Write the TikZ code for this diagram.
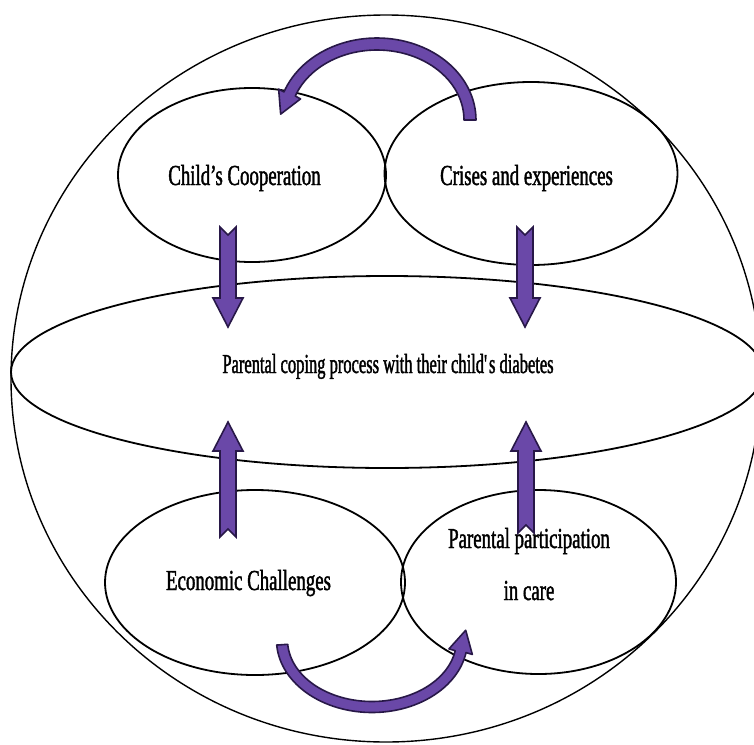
\documentclass[tikz,border=0pt]{standalone}
\usepackage{fontspec}
\usetikzlibrary{shapes.geometric}
\newfontfamily\bigtxt[FakeStretch=0.6,FakeBold=1.4]{Liberation Serif}
\newfontfamily\smtxt[FakeStretch=0.65,FakeBold=1.4]{Liberation Serif}
\definecolor{arrfill}{RGB}{106,72,168}
\definecolor{arrline}{RGB}{40,24,72}
\newcommand{\bendarrow}[9]{%
  \pgfmathsetmacro\baS{ifthenelse(#6>#5,1,-1)}%
  \pgfmathsetmacro\baTX{\baS*(-(#3)*sin(#6))}%
  \pgfmathsetmacro\baTY{\baS*((#4)*cos(#6))}%
  \pgfmathsetmacro\baTL{sqrt(\baTX*\baTX+\baTY*\baTY)}%
  \pgfmathsetmacro\baUX{\baTX/\baTL}%
  \pgfmathsetmacro\baUY{\baTY/\baTL}%
  \pgfmathsetmacro\baNX{(#4)*cos(#6)}%
  \pgfmathsetmacro\baNY{(#3)*sin(#6)}%
  \pgfmathsetmacro\baNL{sqrt(\baNX*\baNX+\baNY*\baNY)}%
  \pgfmathsetmacro\baNX{\baNX/\baNL}%
  \pgfmathsetmacro\baNY{\baNY/\baNL}%
  \pgfmathsetmacro\baBX{#1+(#3)*cos(#6)}%
  \pgfmathsetmacro\baBY{#2+(#4)*sin(#6)}%
  \filldraw[bendarr] plot[domain=#5:#6,samples=60] ({#1+(#3+#7)*cos(\x)},{#2+(#4+#7)*sin(\x)})
    -- ({\baBX+#8*\baNX},{\baBY+#8*\baNY})
    -- ({\baBX+#9*\baUX},{\baBY+#9*\baUY})
    -- ({\baBX-#8*\baNX},{\baBY-#8*\baNY})
    -- plot[domain=#6:#5,samples=60] ({#1+(#3-#7)*cos(\x)},{#2+(#4-#7)*sin(\x)})
    -- cycle;
}
\newcommand{\blockarrow}[3]{%
  \pgfmathsetmacro\bkD{ifthenelse(#3>#2,1,-1)}%
  \filldraw[blockarr] (#1-8,#2) -- (#1,{#2+8*\bkD}) -- (#1+8,#2) -- (#1+8,{#3-29*\bkD})
    -- (#1+15,{#3-29*\bkD}) -- (#1,#3) -- (#1-15,{#3-29*\bkD}) -- (#1-8,{#3-29*\bkD}) -- cycle;
}
\begin{document}
\begin{tikzpicture}[x=1pt,y=-1pt,
  oval/.style={draw=black,ellipse,line width=1.8pt,inner sep=0pt,outer sep=0pt},
  smlbl/.style={font=\smtxt\fontsize{29pt}{32pt}\selectfont,inner sep=0pt,anchor=base},
  biglbl/.style={font=\bigtxt\fontsize{27.5pt}{30pt}\selectfont,inner sep=0pt,anchor=base},
  bendarr/.style={fill=arrfill,draw=arrline,line width=1.6pt,line join=round},
  blockarr/.style={fill=arrfill,draw=arrline,line width=1.6pt,line join=miter}]
\useasboundingbox (0,0) rectangle (754,744);
\fill[white] (0,0) rectangle (754,744);
\node[oval,line width=1.4pt,minimum width=750pt,minimum height=727pt] (outer) at (386,378.5) {};
\node[oval,minimum width=752pt,minimum height=192pt] (core) at (387,372) {};
\node[oval,minimum width=268pt,minimum height=174pt] (coop) at (252,175) {};
\node[oval,minimum width=293pt,minimum height=183pt] (crises) at (531,173.5) {};
\node[oval,minimum width=300pt,minimum height=185pt] (econ) at (255,582.5) {};
\node[oval,minimum width=275pt,minimum height=184pt] (part) at (538.5,582) {};
\node[smlbl] (tcoop) at (244.5,185) {Child’s Cooperation};
\node[smlbl] (tcrises) at (526.5,185) {Crises and experiences};
\node[biglbl] (tcore) at (388,373) {Parental coping process with their child\textquotesingle s diabetes};
\node[smlbl] (tecon) at (248.5,590) {Economic Challenges};
\node[smlbl] (tpart1) at (529,548) {Parental participation};
\node[smlbl] (tpart2) at (529,600) {in care};
\blockarrow{228}{227}{327}
\blockarrow{525}{227}{327}
\blockarrow{228}{537}{422}
\blockarrow{526}{533}{422}
\bendarrow{377}{120}{93}{76}{0}{-160}{6}{12}{22}
\bendarrow{372}{640}{90}{67}{176}{10}{5.5}{12}{22}
\end{tikzpicture}
\end{document}
